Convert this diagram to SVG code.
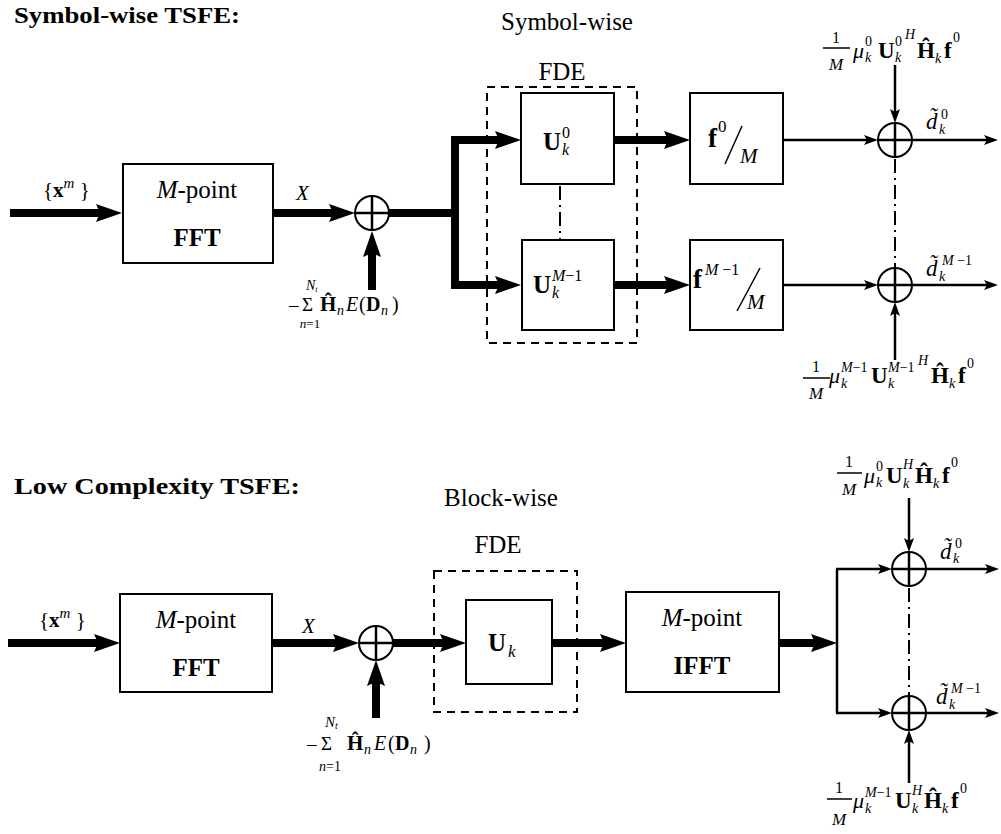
<svg xmlns="http://www.w3.org/2000/svg" width="1001" height="834" viewBox="0 0 1001 834" font-family="'Liberation Serif', serif">
<defs>
<style>
text{font-family:'Liberation Serif',serif;fill:#000}
.box{fill:#fff;stroke:#000;stroke-width:2}
.dash{fill:none;stroke:#000;stroke-width:2;stroke-dasharray:8 6}
.thick{fill:none;stroke:#000;stroke-width:8;marker-end:url(#ah)}
.tl{fill:none;stroke:#000;stroke-width:8}
.thin{fill:none;stroke:#000;stroke-width:2.5;marker-end:url(#at)}
.tn{fill:none;stroke:#000;stroke-width:2.5}
.dd{fill:none;stroke:#000;stroke-width:2;stroke-dasharray:14 5 2 5}
.sum{fill:#fff;stroke:#000;stroke-width:2}
.bar{stroke:#000;stroke-width:1.5}
.i{font-style:italic}
.b{font-weight:bold}
.m{text-anchor:middle}
.t{font-size:25px}
.s{font-size:14px}
.f{font-size:23px}
</style>
<marker id="ah" markerUnits="userSpaceOnUse" markerWidth="26" markerHeight="20" viewBox="0 0 26 20" refX="8" refY="10" orient="auto"><path d="M0,1 L26,10 L0,19 L4,10 z" fill="#000"/></marker>
<marker id="at" markerUnits="userSpaceOnUse" markerWidth="14" markerHeight="10" viewBox="0 0 14 10" refX="4" refY="5" orient="auto"><path d="M0,0 L14,5 L0,10 L3,5 z" fill="#000"/></marker>
</defs>
<rect width="1001" height="834" fill="#fff"/>

<!-- titles -->
<text x="14" y="23" class="b" font-size="24" textLength="226" lengthAdjust="spacingAndGlyphs">Symbol-wise TSFE:</text>
<text x="14" y="494" class="b" font-size="24" textLength="286" lengthAdjust="spacingAndGlyphs">Low Complexity TSFE:</text>
<text x="567" y="30" class="m t">Symbol-wise</text>
<text x="501" y="506" class="m t">Block-wise</text>

<!-- connectors -->
<g id="connectors">
<path class="thick" d="M10,213 H104"/>
<path class="thick" d="M273,213 H337"/>
<path class="thick" d="M372,290 V249"/>
<path class="tl" d="M389,213 H455"/>
<path class="tl" d="M455,136 V289"/>
<path class="thick" d="M455,140 H503"/>
<path class="thick" d="M455,285 H503"/>
<path class="thick" d="M614,140 H672"/>
<path class="thick" d="M614,285 H672"/>
<path class="thin" d="M783,140 H868"/>
<path class="thin" d="M783,285 H868"/>
<path class="thin" d="M912,140 H988"/>
<path class="thin" d="M912,285 H988"/>
<path class="thin" d="M895,65 V113"/>
<path class="thin" d="M895,360 V312"/>
<path class="dd" d="M560,186 V240"/>
<path class="dd" d="M895,159 V268"/>

<path class="thick" d="M8,643 H102"/>
<path class="thick" d="M272,643 H341"/>
<path class="thick" d="M376,718 V678"/>
<path class="thick" d="M393,643 H448"/>
<path class="thick" d="M552,643 H608"/>
<path class="thick" d="M779,643 H819"/>
<path class="tn" d="M837,569 V713"/>
<path class="thin" d="M836,569 H882"/>
<path class="thin" d="M836,713 H882"/>
<path class="thin" d="M926,569 H989"/>
<path class="thin" d="M926,713 H989"/>
<path class="thin" d="M909,498 V542"/>
<path class="thin" d="M909,783 V740"/>
<path class="dd" d="M909,588 V696"/>
</g>

<!-- ===== top row ===== -->
<g id="in1">
<text x="43" y="197" font-size="21">{<tspan class="b">x</tspan><tspan dy="-9" font-size="15" class="i">m</tspan><tspan dy="9"> }</tspan></text>
</g>
<g id="fft1">
<rect class="box" x="123" y="164" width="150" height="99"/>
<text x="197" y="198" class="m t"><tspan class="i">M</tspan>-point</text>
<text x="197" y="246" class="m b" font-size="25">FFT</text>
</g>
<text x="296" y="200" class="i" font-size="21">X</text>
<g id="sum1">
<circle class="sum" cx="372" cy="213" r="17"/>
<path class="tn" d="M355,213 H389 M372,196 V230" stroke-width="2"/>
</g>
<g id="lbl1">
<text x="289" y="311" font-size="19">–</text>
<text x="302" y="311" font-size="19">Σ</text>
<text x="306" y="290" class="i" font-size="14">N<tspan font-size="8" dy="2">t</tspan></text>
<text x="310" y="328" class="m i" font-size="13">n<tspan font-style="normal">=1</tspan></text>
<text x="320" y="311" class="b" font-size="21">Ĥ</text>
<text x="337" y="315" class="i" font-size="14">n</text>
<text x="346" y="311" class="i" font-size="20">E</text>
<text x="359" y="311" font-size="20">(</text>
<text x="366" y="311" class="b" font-size="20">D</text>
<text x="381" y="315" class="i" font-size="14">n</text>
<text x="392" y="311" font-size="20">)</text>
</g>
<g id="fde1">
<rect class="dash" x="487" y="87" width="150" height="256"/>
<text x="562" y="80" class="m" font-size="25">FDE</text>
</g>
<g id="u0">
<rect class="box" x="521" y="93" width="93" height="91"/>
<text x="543" y="150" class="b t">U</text>
<text x="562" y="138" font-size="16">0</text>
<text x="562" y="155" class="i" font-size="16">k</text>
</g>
<g id="uM">
<rect class="box" x="522" y="240" width="92" height="90"/>
<text x="533" y="293" class="b t">U</text>
<text x="552" y="281" font-size="16"><tspan class="i">M</tspan>−1</text>
<text x="552" y="298" class="i" font-size="16">k</text>
</g>
<g id="f0">
<rect class="box" x="690" y="93" width="93" height="91"/>
<text x="708" y="147" class="b" font-size="27">f</text>
<text x="718" y="132" font-size="17">0</text>
<line class="bar" x1="725" y1="164" x2="742" y2="126"/>
<text x="740" y="163" class="i" font-size="21">M</text>
</g>
<g id="fM">
<rect class="box" x="690" y="240" width="93" height="90"/>
<text x="693" y="288" class="b" font-size="27">f</text>
<text x="705" y="275" font-size="16"><tspan class="i">M</tspan> −1</text>
<line class="bar" x1="737" y1="311" x2="760" y2="268"/>
<text x="747" y="309" class="i" font-size="21">M</text>
</g>
<g id="sum2">
<circle class="sum" cx="895" cy="140" r="17"/>
<path class="tn" d="M878,140 H912 M895,123 V157" stroke-width="2"/>
</g>
<g id="sum3">
<circle class="sum" cx="895" cy="285" r="17"/>
<path class="tn" d="M878,285 H912 M895,268 V302" stroke-width="2"/>
</g>
<g id="d0">
<text x="926" y="129" class="i f">d̃</text>
<text x="941" y="119" class="s">0</text>
<text x="939" y="134" class="i s">k</text>
</g>
<g id="dM">
<text x="926" y="276" class="i f">d̃</text>
<text x="942" y="265" class="s"><tspan class="i">M</tspan> −1</text>
<text x="939" y="281" class="i s">k</text>
</g>
<g id="frm1">
<text x="836" y="43" class="m" font-size="16">1</text>
<line class="bar" x1="823" y1="48" x2="850" y2="48"/>
<text x="836" y="70" class="m i" font-size="17">M</text>
<text x="853" y="58" class="i" font-size="22">μ</text>
<text x="865" y="46" class="s">0</text>
<text x="865" y="62" class="i s">k</text>
<text x="878" y="58" class="b f">U</text>
<text x="895" y="46" class="s">0</text>
<text x="895" y="62" class="i s">k</text>
<text x="905" y="39" class="i s">H</text>
<text x="917" y="58" class="b f">Ĥ</text>
<text x="935" y="63" class="i s">k</text>
<text x="944" y="58" class="b f">f</text>
<text x="953" y="42" class="s">0</text>
</g>
<g id="frm2">
<text x="816" y="372" class="m" font-size="16">1</text>
<line class="bar" x1="803" y1="378" x2="830" y2="378"/>
<text x="816" y="399" class="m i" font-size="17">M</text>
<text x="829" y="383" class="i" font-size="22">μ</text>
<text x="841" y="372" class="s"><tspan class="i">M</tspan>−1</text>
<text x="841" y="388" class="i s">k</text>
<text x="871" y="383" class="b f">U</text>
<text x="888" y="372" class="s"><tspan class="i">M</tspan>−1</text>
<text x="888" y="388" class="i s">k</text>
<text x="918" y="365" class="i s">H</text>
<text x="931" y="383" class="b f">Ĥ</text>
<text x="949" y="388" class="i s">k</text>
<text x="958" y="383" class="b f">f</text>
<text x="967" y="368" class="s">0</text>
</g>

<!-- ===== bottom row ===== -->
<g id="in2">
<text x="39" y="627" font-size="21">{<tspan class="b">x</tspan><tspan dy="-9" font-size="15" class="i">m</tspan><tspan dy="9"> }</tspan></text>
</g>
<g id="fft2">
<rect class="box" x="120" y="594" width="152" height="98"/>
<text x="196" y="628" class="m t"><tspan class="i">M</tspan>-point</text>
<text x="196" y="676" class="m b" font-size="25">FFT</text>
</g>
<text x="302" y="633" class="i" font-size="21">X</text>
<g id="sum4">
<circle class="sum" cx="376" cy="643" r="17"/>
<path class="tn" d="M359,643 H393 M376,626 V660" stroke-width="2"/>
</g>
<g id="lbl2">
<text x="307" y="750" font-size="19">–</text>
<text x="321" y="750" font-size="19">Σ</text>
<text x="325" y="727" class="i" font-size="15">N<tspan font-size="10" dy="2">t</tspan></text>
<text x="330" y="771" class="m i" font-size="14">n<tspan font-style="normal">=1</tspan></text>
<text x="347" y="750" class="b" font-size="21">Ĥ</text>
<text x="364" y="754" class="i" font-size="14">n</text>
<text x="374" y="750" class="i" font-size="20">E</text>
<text x="388" y="750" font-size="20">(</text>
<text x="395" y="750" class="b" font-size="20">D</text>
<text x="410" y="754" class="i" font-size="14">n</text>
<text x="424" y="750" font-size="20">)</text>
</g>
<g id="fde2">
<rect class="dash" x="434" y="571" width="143" height="141"/>
<text x="498" y="553" class="m" font-size="25">FDE</text>
</g>
<g id="uk">
<rect class="box" x="466" y="600" width="86" height="84"/>
<text x="488" y="651" class="b t">U</text>
<text x="508" y="657" class="i" font-size="17">k</text>
</g>
<g id="ifft">
<rect class="box" x="626" y="592" width="153" height="100"/>
<text x="702" y="626" class="m t"><tspan class="i">M</tspan>-point</text>
<text x="702" y="674" class="m b" font-size="25">IFFT</text>
</g>
<g id="sum5">
<circle class="sum" cx="909" cy="569" r="17"/>
<path class="tn" d="M892,569 H926 M909,552 V586" stroke-width="2"/>
</g>
<g id="sum6">
<circle class="sum" cx="909" cy="713" r="17"/>
<path class="tn" d="M892,713 H926 M909,696 V730" stroke-width="2"/>
</g>
<g id="d0b">
<text x="940" y="559" class="i f">d̃</text>
<text x="955" y="548" class="s">0</text>
<text x="953" y="563" class="i s">k</text>
</g>
<g id="dMb">
<text x="936" y="704" class="i f">d̃</text>
<text x="951" y="693" class="s"><tspan class="i">M</tspan> −1</text>
<text x="949" y="709" class="i s">k</text>
</g>
<g id="frm3">
<text x="849" y="467" class="m" font-size="16">1</text>
<line class="bar" x1="837" y1="473" x2="862" y2="473"/>
<text x="849" y="495" class="m i" font-size="17">M</text>
<text x="864" y="483" class="i" font-size="22">μ</text>
<text x="876" y="471" class="s">0</text>
<text x="876" y="487" class="i s">k</text>
<text x="886" y="483" class="b f">U</text>
<text x="903" y="469" class="i s">H</text>
<text x="903" y="488" class="i s">k</text>
<text x="915" y="483" class="b f">Ĥ</text>
<text x="933" y="488" class="i s">k</text>
<text x="942" y="483" class="b f">f</text>
<text x="951" y="467" class="s">0</text>
</g>
<g id="frm4">
<text x="839" y="793" class="m" font-size="16">1</text>
<line class="bar" x1="827" y1="799" x2="852" y2="799"/>
<text x="839" y="825" class="m i" font-size="17">M</text>
<text x="853" y="808" class="i" font-size="22">μ</text>
<text x="865" y="797" class="s"><tspan class="i">M</tspan>−1</text>
<text x="865" y="813" class="i s">k</text>
<text x="895" y="808" class="b f">U</text>
<text x="912" y="795" class="i s">H</text>
<text x="912" y="813" class="i s">k</text>
<text x="924" y="808" class="b f">Ĥ</text>
<text x="942" y="813" class="i s">k</text>
<text x="951" y="808" class="b f">f</text>
<text x="960" y="793" class="s">0</text>
</g>
</svg>
